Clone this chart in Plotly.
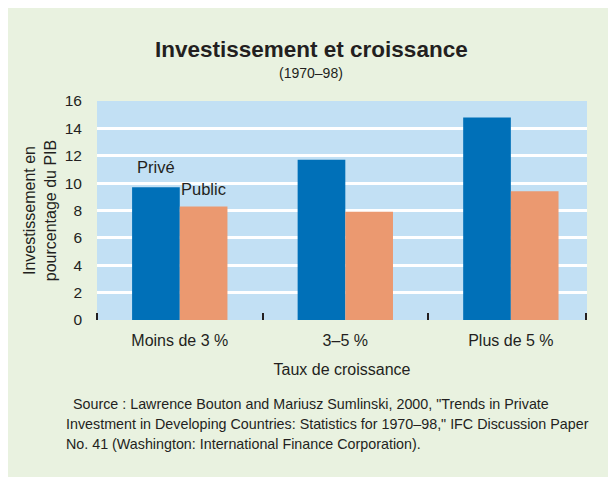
import plotly.graph_objects as go

categories = ["Moins de 3 %", "3–5 %", "Plus de 5 %"]
prive = [9.7, 11.7, 14.8]
public = [8.3, 7.9, 9.4]
y_ticks = [0, 2, 4, 6, 8, 10, 12, 14, 16]
grid_vals = [2, 4, 6, 8, 10, 12, 14]
source_lines = [
    "Source : Lawrence Bouton and Mariusz Sumlinski, 2000, \"Trends in Private",
    "Investment in Developing Countries: Statistics for 1970–98,\" IFC Discussion Paper",
    "No. 41 (Washington: International Finance Corporation).",
]

# the page body has an 8px margin, so figure coords = page coords - 8
W, H = 608, 469
L, R, T, B = 89, 29, 93, 157
PW, PH = W - L - R, H - T - B

def px_x(px):
    return (px - L) / PW

def px_y(py):
    return (H - B - py) / PH

FONT = "Liberation Sans, Arial, sans-serif"
TXT = "#231f20"
GREEN = "#e9f2e0"
LBLUE = "#c2e0f4"
BLUE = "#0070b8"
ORANGE = "#eb9970"

xs = list(range(len(categories)))
bw = 0.288

fig = go.Figure()
fig.add_trace(go.Bar(x=xs, y=prive, name="Privé", marker=dict(color=BLUE, line=dict(width=0)),
                     offsetgroup="a"))
fig.add_trace(go.Bar(x=xs, y=public, name="Public", marker=dict(color=ORANGE, line=dict(width=0)),
                     offsetgroup="b"))

fig.update_layout(
    width=W, height=H,
    margin=dict(l=L, r=R, t=T, b=B, pad=0),
    paper_bgcolor=GREEN,
    plot_bgcolor=LBLUE,
    barmode="group",
    bargap=0.424,
    bargroupgap=0,
    showlegend=False,
    font=dict(family=FONT, color=TXT, size=16),
)

fig.update_xaxes(
    range=[-0.5, 2.46],
    tickmode="array", tickvals=xs, ticktext=categories,
    ticks="", showgrid=False, zeroline=False, showline=False,
    tickfont=dict(size=16, family=FONT, color=TXT),
    ticklabelstandoff=9,
    minor=dict(tickmode="array", tickvals=[-0.5, 0.5, 1.5, 2.455], ticks="inside",
               ticklen=7, tickwidth=1.5, tickcolor=TXT, showgrid=False),
    title=dict(text="Taux de croissance", font=dict(size=16, family=FONT, color=TXT), standoff=15),
    fixedrange=True,
)
fig.update_yaxes(
    range=[0, 16],
    tickmode="array", tickvals=y_ticks,
    ticks="", showgrid=False, zeroline=False, showline=False,
    tickfont=dict(size=15.5, family=FONT, color=TXT),
    ticklabelstandoff=14,
    minor=dict(tickmode="array", tickvals=grid_vals, ticks="", showgrid=True,
               gridcolor="white", gridwidth=2.5),
    title=dict(text="Investissement en<br>pourcentage du PIB",
               font=dict(size=16, family=FONT, color=TXT), standoff=4),
    fixedrange=True,
)

annos = [
    dict(text="<b>Investissement et croissance</b>", x=px_x(303), y=px_y(42),
         font=dict(size=22.5, family=FONT, color=TXT)),
    dict(text="(1970–98)", x=px_x(303), y=px_y(65),
         font=dict(size=14, family=FONT, color=TXT)),
]
for a in annos:
    fig.add_annotation(xref="paper", yref="paper", xanchor="center", yanchor="middle",
                       showarrow=False, **a)

fig.add_annotation(xref="x", yref="y", x=xs[0] - bw / 2, y=prive[0], yshift=20,
                   text="Privé", showarrow=False, xanchor="center", yanchor="middle",
                   font=dict(size=16.5, family=FONT, color=TXT))
fig.add_annotation(xref="x", yref="y", x=xs[0] + bw / 2, y=public[0], yshift=17,
                   text="Public", showarrow=False, xanchor="center", yanchor="middle",
                   font=dict(size=16.5, family=FONT, color=TXT))

src_x = [63, 56, 56]
src_y = [395.5, 415.5, 435.5]
for txt, sx, sy in zip(source_lines, src_x, src_y):
    fig.add_annotation(xref="paper", yref="paper", x=px_x(sx), y=px_y(sy),
                       xanchor="left", yanchor="middle", align="left", showarrow=False,
                       text=txt, font=dict(size=14.3, family=FONT, color=TXT))

fig.write_html("out.html")
